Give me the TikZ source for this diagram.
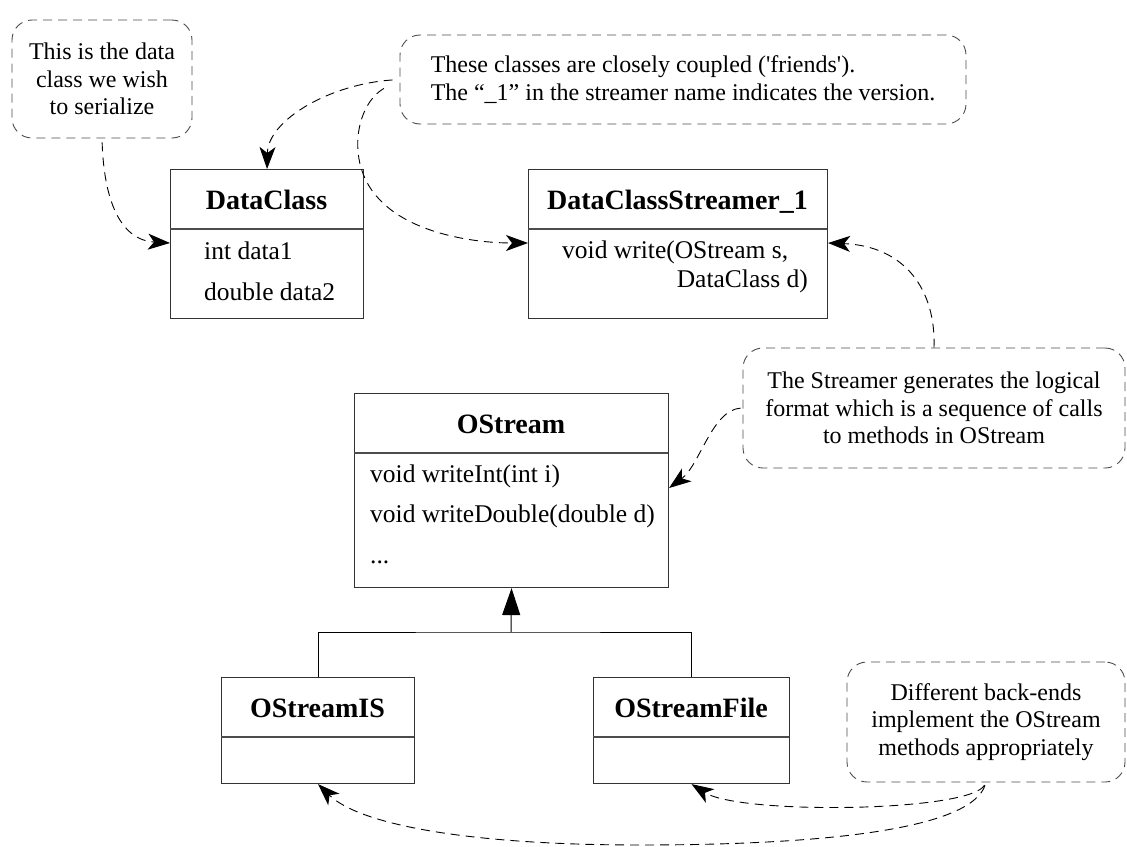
\documentclass[tikz,border=0pt]{standalone}
\usepackage{fontspec}
\setmainfont{Liberation Serif}
\usetikzlibrary{arrows.meta}
\begin{document}
\begin{tikzpicture}[x=1pt,y=-1pt,
  note/.style={draw=black!70, dash pattern=on 9pt off 6pt, rounded corners=20pt,
    line width=0.9pt, inner sep=0pt, align=center,
    font=\fontsize{24}{27.5}\selectfont},
  classbox/.style={draw=black!80, line width=1.1pt, anchor=north west, inner sep=0pt},
  divider/.style={draw=black!70, line width=1.3pt},
  title/.style={font=\fontsize{28}{30}\selectfont\bfseries, anchor=base, inner sep=0pt},
  member/.style={font=\fontsize{25.5}{28}\selectfont, anchor=base west, inner sep=0pt},
  link/.style={draw=black, line width=0.9pt, dash pattern=on 9pt off 6pt,
    -{Stealth[length=22pt,width=16pt,inset=6pt]}},
  inherit/.style={draw=black, line width=1pt},
]
\useasboundingbox (0,0) rectangle (1127,846);

% helper rows for arrow end points
\coordinate (r243) at (0,243);
\coordinate (r488) at (0,488);

% notes
\node[note, minimum width=180pt, minimum height=118pt] (n1) at (102,79)
  {This is the data\\class we wish\\to serialize};
\node[note, minimum width=566pt, minimum height=89pt, align=left] (n2) at (683,79.5)
  {These classes are closely coupled (\textquotesingle friends\textquotesingle).\\The “\_1” in the streamer name indicates the version.};
\node[note, minimum width=382pt, minimum height=120pt] (n3) at (934,408)
  {The Streamer generates the logical\\format which is a sequence of calls\\to methods in OStream};
\node[note, minimum width=278pt, minimum height=120pt] (n4) at (986,722)
  {Different back-ends\\implement the OStream\\methods appropriately};

% class DataClass
\node[classbox, minimum width=193pt, minimum height=149pt] (dc) at (170,169) {};
\draw[divider] (170,229) -- (363,229);
\node[title] (dct) at (266.5,209) {DataClass};
\node[member] (dcm1) at (204,259) {int data1};
\node[member] (dcm2) at (204,300) {double data2};

% class DataClassStreamer_1
\node[classbox, minimum width=299pt, minimum height=149pt] (st) at (528,169) {};
\draw[divider] (528,229) -- (827,229);
\node[title] (stt) at (677.5,209) {DataClassStreamer\_1};
\node[member] (stm1) at (562,258) {void write(OStream s,};
\node[member, anchor=base east] (stm2) at (808,287) {DataClass d)};

% class OStream
\node[classbox, minimum width=314pt, minimum height=194pt] (os) at (354,393) {};
\draw[divider] (354,453) -- (668,453);
\node[title] (ost) at (511,433) {OStream};
\node[member] (osm1) at (370,482) {void writeInt(int i)};
\node[member] (osm2) at (370,522) {void writeDouble(double d)};
\node[member] (osm3) at (370,563) {...};

% class OStreamIS
\node[classbox, minimum width=193pt, minimum height=106pt] (osis) at (221,677) {};
\draw[divider] (221,737) -- (414,737);
\node[title] (osist) at (317.5,717) {OStreamIS};

% class OStreamFile
\node[classbox, minimum width=196pt, minimum height=106pt] (osf) at (593,677) {};
\draw[divider] (593,737) -- (789,737);
\node[title] (osft) at (691,717) {OStreamFile};

% generalisation
\coordinate (bar) at (511,632);
\draw[inherit] (osis.north) |- (bar) -| (osf.north);
\draw[inherit, -{Triangle[length=27pt,width=18pt]}] (bar) -- (os.south);

% note links
\draw[link, shorten <=4pt] (n1.south) .. controls (104,200) and (120,240) .. (dc.west |- r243);
\draw[link, shorten <=7pt] (n2.west) .. controls (330,84) and (268,120) .. (dc.north);
\draw[link, shorten <=18pt] (n2.west) .. controls (355,105) and (345,165) .. (380,200)
  .. controls (410,232) and (470,243) .. (st.west |- r243);
\draw[link] (n3.north) .. controls (936,290) and (905,246) .. (st.east |- r243);
\draw[link, shorten <=2pt] (n3.west) .. controls (712,410) and (700,465) .. (os.east |- r488);
\draw[link, shorten <=3pt] (n4.south) .. controls (970,812) and (740,815) .. (osf.south);
\draw[link, shorten <=3pt] (n4.south) .. controls (970,830) and (820,845) .. (640,845)
  .. controls (470,845) and (360,825) .. (osis.south);
\end{tikzpicture}
\end{document}
